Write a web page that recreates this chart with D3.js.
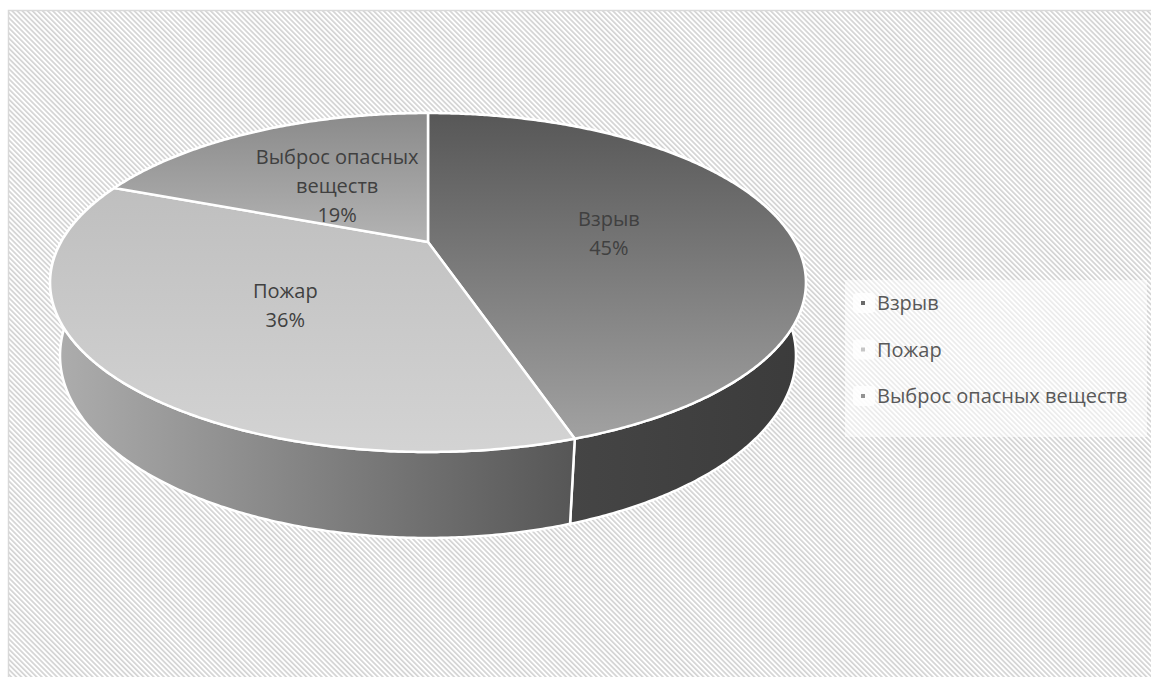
<!DOCTYPE html>
<html>
<head>
<meta charset="utf-8">
<script src="https://cdn.jsdelivr.net/npm/d3@7"></script>
<style>
    body { margin: 0; background: #fff; }
    svg { display: block; font-family: "Open Sans", "Noto Sans", sans-serif; }
</style>
</head>
<body>
<svg id="pieChart" width="1151" height="677"></svg>
<script>
// chart data
let categories = ['Взрыв', 'Пожар', 'Выброс опасных веществ'];
let values = [45, 36, 19];
let percentLabels = ['45%', '36%', '19%'];
let nameLines = [['Взрыв'], ['Пожар'], ['Выброс опасных', 'веществ']];

// colours per slice: top face gradient, side gradient, legend marker
let topColors = [['#575757', '#a4a4a4'], ['#b9b9b9', '#d3d3d3'], ['#8a8a8a', '#b6b6b6']];
let sideColors = [['#454545', '#3b3b3b'], ['#aeaeae', '#575757'], ['#7a7a7a', '#7a7a7a']];
let markerColors = ['#6a6a6a', '#c6c6c6', '#939393'];

function drawChart(){
    let svg = d3.select('#pieChart');

    // perspective camera - fitted to the picture
    let cx = 428, cy = 242;
    let focal = 1382, dist = 3.766;
    let sinA = 0.4354, cosA = 0.9002;
    let depth = 0.221;

    function project(ang, r, z){
        let u = r * Math.sin(ang);
        let v = r * Math.cos(ang);
        let yc = v * sinA + z * cosA;
        let zc = v * cosA - z * sinA + dist;
        return [cx + focal * u / zc, cy - focal * yc / zc];
    }

    let defs = svg.append('defs');

    // hatched background
    let hatch = defs.append('pattern')
        .attr('id', 'hatch')
        .attr('patternUnits', 'userSpaceOnUse')
        .attr('width', 3.6)
        .attr('height', 3.6)
        .attr('patternTransform', 'rotate(-45)');
    hatch.append('rect').attr('width', 3.6).attr('height', 3.6).attr('fill', '#ffffff');
    hatch.append('rect').attr('width', 1.7).attr('height', 3.6).attr('fill', '#d4d4d4');

    // gradients
    topColors.forEach(function(c, i){
        let g = defs.append('linearGradient')
            .attr('id', 'topGrad' + i)
            .attr('gradientUnits', 'userSpaceOnUse')
            .attr('x1', 0).attr('y1', 112).attr('x2', 0).attr('y2', i == 2 ? 250 : 450);
        g.append('stop').attr('offset', 0).attr('stop-color', c[0]);
        g.append('stop').attr('offset', 1).attr('stop-color', c[1]);
    });
    sideColors.forEach(function(c, i){
        let g = defs.append('linearGradient')
            .attr('id', 'sideGrad' + i)
            .attr('gradientUnits', 'userSpaceOnUse')
            .attr('x1', i == 1 ? 50 : 570).attr('y1', 0).attr('x2', i == 1 ? 570 : 806).attr('y2', 0);
        g.append('stop').attr('offset', 0).attr('stop-color', c[0]);
        g.append('stop').attr('offset', 1).attr('stop-color', c[1]);
    });

    // frame
    svg.append('rect')
        .attr('x', 8.5)
        .attr('y', 10.5)
        .attr('width', 1170)
        .attr('height', 700)
        .attr('fill', 'url(#hatch)')
        .attr('stroke', '#d9d9d9')
        .attr('stroke-width', 1.5);

    // pie angles
    let pie = d3.pie().sort(null).value(function(d){ return d; });
    let arcs = pie(values);

    let line = d3.line();
    function arcPoints(a0, a1, z){
        let n = Math.max(2, Math.ceil((a1 - a0) / 0.008));
        return d3.range(n + 1).map(function(k){
            return project(a0 + (a1 - a0) * k / n, 1, z);
        });
    }

    // side walls, back ones first
    let wallOrder = arcs.map(function(d, i){ return i; })
        .sort(function(a, b){
            let ma = (arcs[a].startAngle + arcs[a].endAngle) / 2;
            let mb = (arcs[b].startAngle + arcs[b].endAngle) / 2;
            return Math.cos(mb) - Math.cos(ma);
        });
    let wallGrp = svg.append('g').attr('class', 'wallGrp');
    wallOrder.forEach(function(i){
        let d = arcs[i];
        let topPts = arcPoints(d.startAngle, d.endAngle, 0);
        let botPts = arcPoints(d.startAngle, d.endAngle, -depth).reverse();
        wallGrp.append('path')
            .attr('d', line(topPts.concat(botPts)) + 'Z')
            .attr('fill', 'url(#sideGrad' + i + ')')
            .attr('stroke', '#ffffff')
            .attr('stroke-width', 2.5)
            .attr('stroke-linejoin', 'round');
    });

    // top faces
    let topGrp = svg.append('g').attr('class', 'topGrp');
    arcs.forEach(function(d, i){
        let pts = [project(0, 0, 0)].concat(arcPoints(d.startAngle, d.endAngle, 0));
        topGrp.append('path')
            .attr('d', line(pts) + 'Z')
            .attr('fill', 'url(#topGrad' + i + ')')
            .attr('stroke', '#ffffff')
            .attr('stroke-width', 2.5)
            .attr('stroke-linejoin', 'round');
    });

    // data labels
    let labelGrp = svg.append('g').attr('class', 'labelGrp');
    arcs.forEach(function(d, i){
        let mid = (d.startAngle + d.endAngle) / 2;
        let pos = project(mid, 0.5, 0);
        let lines = nameLines[i].concat([percentLabels[i]]);
        lines.forEach(function(t, k){
            labelGrp.append('text')
                .attr('x', pos[0] + 3)
                .attr('y', pos[1] + 4 + (k - (lines.length - 1) / 2) * 29)
                .attr('dy', '0.35em')
                .attr('text-anchor', 'middle')
                .attr('font-size', 20)
                .attr('fill', '#404040')
                .text(t);
        });
    });

    // legend
    let legendY = d3.scalePoint()
        .domain(categories)
        .range([303, 396]);
    let legendGrp = svg.append('g').attr('class', 'legendGrp');
    legendGrp.append('rect')
        .attr('x', 845)
        .attr('y', 280)
        .attr('width', 302)
        .attr('height', 157)
        .attr('fill', '#ffffff')
        .attr('fill-opacity', 0.55);
    legendGrp.selectAll('.legendPatch')
        .data(categories)
        .enter()
        .append('rect')
        .attr('class', 'legendPatch')
        .attr('x', 853)
        .attr('y', function(d){ return legendY(d) - 10; })
        .attr('width', 22)
        .attr('height', 20)
        .attr('rx', 4)
        .attr('fill', '#ffffff')
        .attr('fill-opacity', 0.8);
    legendGrp.selectAll('.legendMark')
        .data(categories)
        .enter()
        .append('rect')
        .attr('class', 'legendMark')
        .attr('x', 861)
        .attr('y', function(d){ return legendY(d) - 2; })
        .attr('width', 4)
        .attr('height', 4)
        .attr('fill', function(d, i){ return markerColors[i]; });
    legendGrp.selectAll('.legendText')
        .data(categories)
        .enter()
        .append('text')
        .attr('class', 'legendText')
        .attr('x', 877)
        .attr('y', function(d){ return legendY(d); })
        .attr('dy', '0.35em')
        .attr('font-size', 20)
        .attr('fill', '#595959')
        .text(function(d){ return d; });
}

drawChart();
</script>
</body>
</html>
